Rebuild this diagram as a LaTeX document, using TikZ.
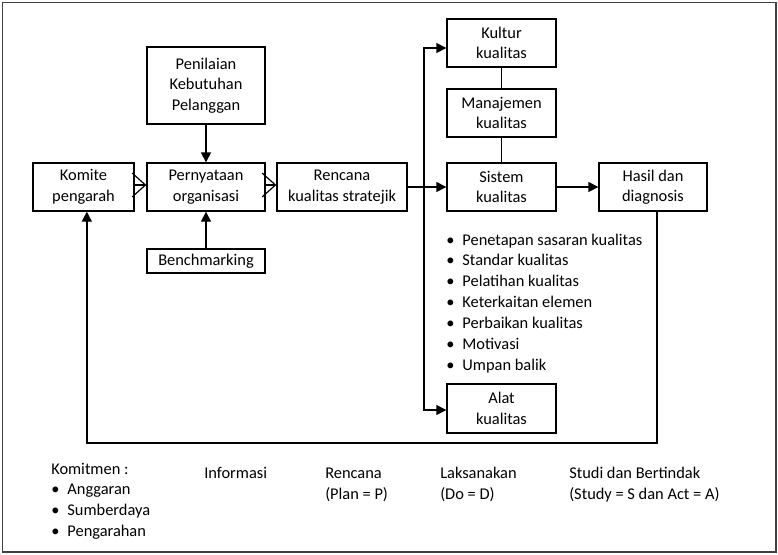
\documentclass[tikz,border=0pt]{standalone}
\usepackage{fontspec}
\setmainfont{Carlito}
\usetikzlibrary{arrows.meta}
\begin{document}
\begin{tikzpicture}[x=0.75pt,y=-0.75pt,
  every node/.style={font=\fontsize{12.3}{15.4}\selectfont, inner sep=0pt},
  box/.style={draw, line width=1pt, align=center, minimum width=#1*0.75pt},
  box/.default=109,
  tall/.style={minimum height=#1*0.75pt},
  link/.style={line width=1pt},
  flow/.style={line width=1pt, -{Triangle[length=7.5, width=7.5]}},
  barb/.style={line width=0.9pt, -{Straight Barb[length=10, width=18, line width=0.9pt]}},
  lbl/.style={anchor=base west, align=left},
  bul/.style={anchor=base west}]
% page and frame
\useasboundingbox (0,0) rectangle (778,554);
\draw[line width=1.2pt, black!75] (2.5,2.5) rectangle (776,552);

% boxes
\node[box=118, tall=77] (pen) at (206,85.5) {Penilaian\\Kebutuhan\\Pelanggan};
\node[box=101, tall=48] (kom) at (83.5,187) {Komite\\pengarah};
\node[box=118, tall=48] (per) at (206,187) {Pernyataan\\organisasi};
\node[box=130, tall=48] (ren) at (342,187) {Rencana\\kualitas stratejik};
\node[box=118, tall=24] (ben) at (206,261) {Benchmarking};
\node[box, tall=48] (kul) at (501.5,43) {Kultur\\kualitas};
\node[box, tall=48] (man) at (501.5,113) {Manajemen\\kualitas};
\node[box, tall=48] (sis) at (501.5,187) {Sistem\\kualitas};
\node[box=108, tall=48] (has) at (653,187) {Hasil dan\\diagnosis};
\node[box, tall=49] (ala) at (501.5,408.5) {Alat\\kualitas};

% connectors
\draw[flow] (pen) -- (per);
\draw[flow] (ben) -- (per);
\draw[barb] (kom.east |- 0,185) -- (per.west |- 0,185);
\draw[barb] (per.east |- 0,185) -- (ren.west |- 0,185);
\draw[flow] (ren) -- (sis);
\draw[flow] (sis) -- (has);
\draw[link] (kul) -- (man);
\draw[link] (man) -- (sis);
\coordinate (split) at (424,187);
\draw[flow] (split) |- (kul.west |- 0,48);
\draw[flow] (split) |- (ala.west |- 0,410);
\coordinate (fb) at (657,443);
\draw[link, -{Triangle[length=7.5, width=7.5]}] (has.south -| fb) -- (fb) -| ([xshift=2.5]kom.south);

% quality system elements
\foreach \t [count=\i from 0] in {Penetapan sasaran kualitas, Standar kualitas, Pelatihan kualitas, Keterkaitan elemen, Perbaikan kualitas, Motivasi, Umpan balik}
  \node[bul] (el\i) at (446, 245+20.9*\i) {\textbullet\hspace{6pt}\t};

% bottom labels
\node[lbl] (komit) at (51,474) {Komitmen :};
\foreach \t [count=\i from 1] in {Anggaran, Sumberdaya, Pengarahan}
  \node[bul] (km\i) at (51, 474+20.7*\i) {\textbullet\hspace{6pt}\t};
\node[lbl] (info) at (204,478) {Informasi};
\node[lbl] (plan) at (325,478) {Rencana};
\node[lbl] (planx) at (325,499) {(Plan = P)};
\node[lbl] (do) at (440,478) {Laksanakan};
\node[lbl] (dox) at (440,499) {(Do = D)};
\node[lbl] (study) at (569,478) {Studi dan Bertindak};
\node[lbl] (studyx) at (569,499) {(Study = S dan Act = A)};
\end{tikzpicture}
\end{document}
